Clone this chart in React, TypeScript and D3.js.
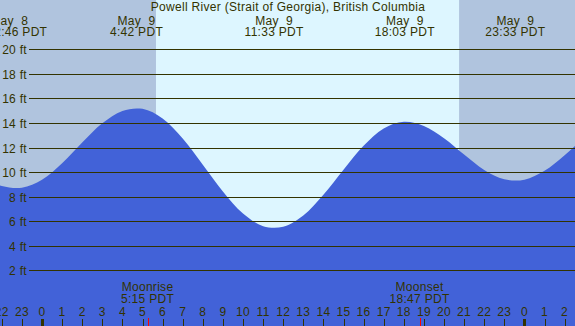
import React from 'react';
import * as d3 from 'd3';

// hours since May 9 00:00 PDT
const hours = [-3, -2, -1, 0, 1, 2, 3, 4, 5, 6, 7, 8, 9, 10, 11, 12, 13, 14, 15, 16, 17, 18, 19, 20, 21, 22, 23, 24, 25, 26, 27];
const heights = [9.54, 8.87, 8.73, 9.37, 10.72, 12.41, 13.97, 14.98, 15.15, 14.36, 12.73, 10.6, 8.42, 6.63, 5.6, 5.55, 6.47, 8.15, 10.19, 12.14, 13.56, 14.1, 13.76, 12.76, 11.43, 10.18, 9.42, 9.38, 10.1, 11.37, 12.86];

// high / low tide labels along the top
const extremeHours = [-1.233, 4.7, 11.55, 18.05, 23.55];
const extremeDays = ['May  8', 'May  9', 'May  9', 'May  9', 'May  9'];
const extremeTimes = ['22:46 PDT', '4:42 PDT', '11:33 PDT', '18:03 PDT', '23:33 PDT'];

const sunrise = 5.67;
const sunset = 20.75;

const moonEvents = ['Moonrise', 'Moonset'];
const moonHours = [5.25, 18.783];
const moonTimes = ['5:15 PDT', '18:47 PDT'];

const hourTicks = d3.range(-2, 27);
const feetTicks = [2, 4, 6, 8, 10, 12, 14, 16, 18, 20];

const W = 575;
const H = 326;
const ink = '#333300';
const font = '"Liberation Sans", Arial, sans-serif';

export default function App() {
  const x = d3.scaleLinear().domain([0, 24]).range([42, 524.4]);
  const y = d3.scaleLinear().domain([0, 20]).range([294.9, 49.3]);

  const area = d3.area<number>()
    .x((d, i) => x(hours[i]))
    .y0(H)
    .y1(d => y(d))
    .curve(d3.curveCatmullRom);

  const hourLabel = (h: number) => String(((h % 24) + 24) % 24);

  // the first day label sits a little left of its time (as in the source chart)
  const dayX = (h: number, i: number) => (i === 0 ? x(h) - 8 : x(h));

  return (
    <svg width={W} height={H} style={{ position: 'fixed', left: 0, top: 0, display: 'block' }}
      fontFamily={font} fontSize={12} letterSpacing={0.3}>
      <rect x={0} y={0} width={W} height={H} fill="#b0c4de" />
      <rect x={x(sunrise)} y={0} width={x(sunset) - x(sunrise)} height={H} fill="#ddf6ff" />
      <path d={area(heights) || ''} fill="#4262d8" />

      {feetTicks.map(f => {
        const yy = Math.round(y(f)) + 0.5;
        return (
          <g key={f}>
            <line x1={29} x2={W} y1={yy} y2={yy} stroke={ink} strokeWidth={1} />
            <text x={27} y={yy + 4} textAnchor="end" fill={ink}>{f} ft</text>
          </g>
        );
      })}

      <text x={288} y={11} textAnchor="middle" fill={ink}>
        Powell River (Strait of Georgia), British Columbia
      </text>
      {extremeHours.map((h, i) => (
        <g key={i}>
          <text x={dayX(h, i)} y={25} textAnchor="middle" fill={ink} style={{ whiteSpace: 'pre' }}>{extremeDays[i]}</text>
          <text x={x(h)} y={36} textAnchor="middle" fill={ink}>{extremeTimes[i]}</text>
        </g>
      ))}

      {moonHours.map((h, i) => (
        <g key={i}>
          <text x={x(h)} y={291} textAnchor="middle" fill={ink}>{moonEvents[i]}</text>
          <text x={x(h)} y={303} textAnchor="middle" fill={ink}>{moonTimes[i]}</text>
          <line x1={Math.round(x(h)) + 0.5} x2={Math.round(x(h)) + 0.5} y1={318} y2={H} stroke="#ff0000" strokeWidth={1} />
        </g>
      ))}

      {hourTicks.map(h => {
        const xx = Math.round(x(h)) + 0.5;
        const midnight = ((h % 24) + 24) % 24 === 0;
        return (
          <g key={h}>
            <text x={x(h)} y={316} textAnchor="middle" fill={ink}>{hourLabel(h)}</text>
            <line x1={xx} x2={xx} y1={319} y2={H} stroke={ink} strokeWidth={midnight ? 3 : 1} />
          </g>
        );
      })}
    </svg>
  );
}
